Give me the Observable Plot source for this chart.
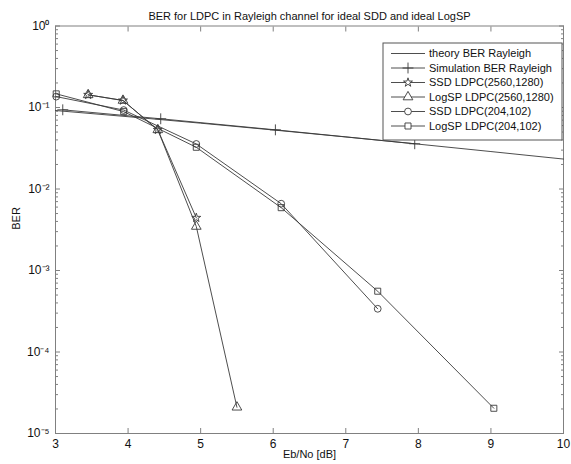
<!DOCTYPE html>
<html><head><meta charset="utf-8">
<script src="https://cdn.jsdelivr.net/npm/d3@7"></script>
<script src="https://cdn.jsdelivr.net/npm/@observablehq/plot@0.6"></script>
<style>body{margin:0;background:#fff}</style>
</head><body><div id="chart"></div>
<script>
const title = "BER for LDPC in Rayleigh channel for ideal SDD and ideal LogSP";
const xLabel = "Eb/No [dB]";
const yLabel = "BER";
const xTicks = [3, 4, 5, 6, 7, 8, 9, 10];
const yTicks = [1e-5, 1e-4, 1e-3, 1e-2, 1e-1, 1];
const yTickLabels = ["10\u207B\u2075", "10\u207B\u2074", "10\u207B\u00B3", "10\u207B\u00B2", "10\u207B\u00B9", "10\u2070"];
const yMinorTicks = [1e-5, 1e-4, 1e-3, 1e-2, 1e-1].flatMap(d => [2,3,4,5,6,7,8,9].map(m => m * d));

const seriesNames = ["theory BER Rayleigh", "Simulation BER Rayleigh", "SSD LDPC(2560,1280)", "LogSP LDPC(2560,1280)", "SSD LDPC(204,102)", "LogSP LDPC(204,102)"];
const seriesSymbols = [null, "plus", "star", "triangle", "circle", "square"];
const symbolRadius = [0, 3.6, 2.8, 3.6, 3.4, 3.4];

const theoryX = [3, 4, 5, 6, 7, 8, 9, 10];
const theoryBER = [0.0918, 0.0771, 0.0642, 0.0530, 0.0435, 0.0355, 0.0288, 0.0233];
const simX = [3.1, 4.45, 6.03, 7.95];
const simBER = [0.0937, 0.0727, 0.0532, 0.0359];
const ssd2560X = [3.45, 3.93, 4.41, 4.94];
const ssd2560BER = [0.143, 0.122, 0.0532, 0.00443];
const logsp2560X = [3.45, 3.93, 4.41, 4.94, 5.50];
const logsp2560BER = [0.143, 0.122, 0.0532, 0.00347, 2.1e-5];
const ssd204X = [3.01, 3.94, 4.94, 6.11, 7.44];
const ssd204BER = [0.136, 0.093, 0.0357, 0.0066, 0.000339];
const logsp204X = [3.01, 3.94, 4.94, 6.11, 7.44, 9.04];
const logsp204BER = [0.147, 0.089, 0.0325, 0.0059, 0.000557, 2.04e-5];

const toRows = (xs, ys) => xs.map((x, i) => ({x, y: ys[i]}));
const series = [
  toRows(theoryX, theoryBER),
  toRows(simX, simBER),
  toRows(ssd2560X, ssd2560BER),
  toRows(logsp2560X, logsp2560BER),
  toRows(ssd204X, ssd204BER),
  toRows(logsp204X, logsp204BER)
];

const ink = "#3a3a3a";
const frameColor = "#808080";
const font = "'Liberation Sans', Arial, sans-serif";

const marks = [
  Plot.frame({stroke: frameColor}),
  Plot.axisX(xTicks, {anchor: "bottom", tickSize: -5, tickFormat: () => "", label: null, stroke: frameColor}),
  Plot.axisX(xTicks, {anchor: "top", tickSize: -5, tickFormat: () => "", label: null, stroke: frameColor}),
  Plot.axisY(yTicks, {anchor: "left", tickSize: -5, tickFormat: () => "", label: null, stroke: frameColor}),
  Plot.axisY(yTicks, {anchor: "right", tickSize: -5, tickFormat: () => "", label: null, stroke: frameColor}),
  Plot.axisY(yMinorTicks, {anchor: "left", tickSize: -3, tickFormat: () => "", label: null, stroke: frameColor}),
  Plot.axisY(yMinorTicks, {anchor: "right", tickSize: -3, tickFormat: () => "", label: null, stroke: frameColor}),
  Plot.axisX(xTicks, {anchor: "bottom", tickSize: 0, tickPadding: 6, label: null, fontSize: 12, fill: "#111"}),
  Plot.axisY(yTicks, {anchor: "left", tickSize: 0, tickPadding: 6, label: null, fontSize: 12, fill: "#111",
    tickFormat: d => yTickLabels[yTicks.indexOf(d)]}),
  Plot.text([title], {frameAnchor: "top", dy: -14, fontSize: 11, fill: "#111"}),
  Plot.text([xLabel], {frameAnchor: "bottom", dy: 24, fontSize: 11, fill: "#111"}),
  Plot.text([yLabel], {frameAnchor: "left", dx: -39, rotate: -90, fontSize: 11, fill: "#111"})
];
series.forEach((rows, i) => {
  marks.push(Plot.line(rows, {x: "x", y: "y", stroke: ink, strokeWidth: 0.9}));
  if (seriesSymbols[i]) {
    marks.push(Plot.dot(rows, {x: "x", y: "y", symbol: seriesSymbols[i], r: symbolRadius[i], stroke: ink, fill: "none", strokeWidth: 0.9}));
  }
});

const chart = Plot.plot({
  width: 571, height: 464,
  marginLeft: 55, marginRight: 8, marginTop: 25.5, marginBottom: 31,
  x: {domain: [3, 10]},
  y: {type: "log", domain: [1e-5, 1]},
  style: {fontFamily: font, fontSize: "11px", background: "#fff", color: "#111"},
  marks
});
document.getElementById("chart").appendChild(chart);

// legend box (MATLAB style)
const svg = d3.select(chart);
const lg = svg.append("g").attr("font-family", font).attr("font-size", 11).attr("text-anchor", "start");
const bx = 383, by = 43, bw = 179, bh = 97, rowH = 14.5, row0 = 53.5;
lg.append("rect").attr("x", bx).attr("y", by).attr("width", bw).attr("height", bh)
  .attr("fill", "#fff").attr("stroke", "#555").attr("stroke-width", 1);
const symMap = {plus: d3.symbolPlus, star: d3.symbolStar, triangle: d3.symbolTriangle, circle: d3.symbolCircle, square: d3.symbolSquare};
seriesNames.forEach((name, i) => {
  const y = row0 + i * rowH;
  lg.append("line").attr("x1", 391).attr("x2", 425).attr("y1", y).attr("y2", y)
    .attr("stroke", ink).attr("stroke-width", 0.9);
  if (seriesSymbols[i]) {
    const r = symbolRadius[i];
    lg.append("path").attr("d", d3.symbol(symMap[seriesSymbols[i]], Math.PI * r * r)())
      .attr("transform", `translate(408,${y})`).attr("fill", "#fff").attr("stroke", ink).attr("stroke-width", 0.9);
  }
  lg.append("text").attr("x", 429).attr("y", y).attr("dy", "0.35em").attr("text-anchor", "start").attr("fill", "#111").text(name);
});
</script>
</body></html>
